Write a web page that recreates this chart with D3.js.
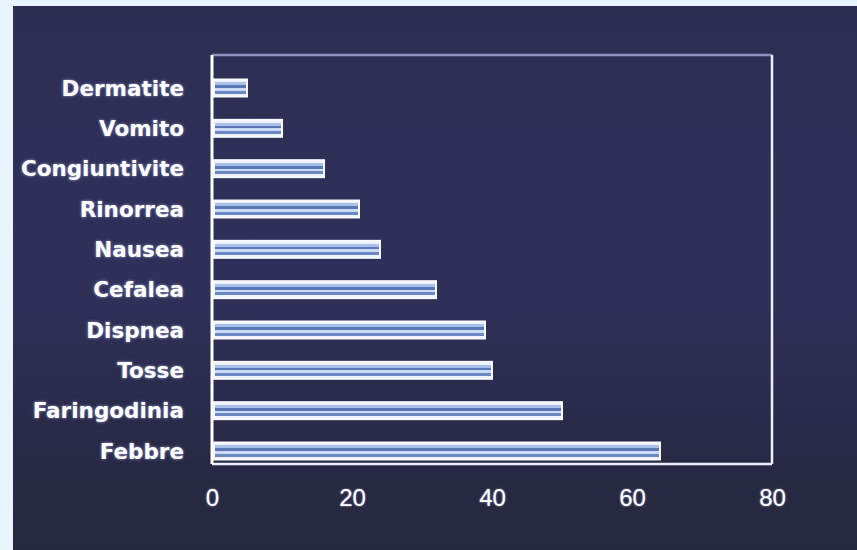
<!DOCTYPE html>
<html>
<head>
<meta charset="utf-8">
<script src="https://cdn.jsdelivr.net/npm/d3@7"></script>
<style>
  body { margin: 0; background: #e8f5fd; }
  svg text { font-family: "DejaVu Sans", sans-serif; }
  .lab { fill: #fff; font-weight: bold; font-size: 21.5px; text-shadow: 0 0 3px #9aa0d8; }
  .tick text { fill: #fff; font-family: "Liberation Sans", sans-serif; font-size: 24px; text-shadow: 0 0 2px #b0b4e0; }
</style>
</head>
<body>
<div id="chart"></div>
<script>
// symptoms, top to bottom
var categories = ["Dermatite", "Vomito", "Congiuntivite", "Rinorrea", "Nausea",
                  "Cefalea", "Dispnea", "Tosse", "Faringodinia", "Febbre"];
var values = [5, 10, 16, 21, 24, 32, 39, 40, 50, 64];
var tickValues = [0, 20, 40, 60, 80];

var W = 857, H = 550;

var svg = d3.select("#chart")
    .append("svg")
    .attr("width", W)
    .attr("height", H);

var defs = svg.append("defs");

// background gradient (bluish top, darker bottom)
var bg = defs.append("linearGradient")
    .attr("id", "bg")
    .attr("x1", 0).attr("y1", 0).attr("x2", 0).attr("y2", 1);
bg.append("stop").attr("offset", "0%").attr("stop-color", "#2d2e52");
bg.append("stop").attr("offset", "50%").attr("stop-color", "#30315a");
bg.append("stop").attr("offset", "80%").attr("stop-color", "#282a47");
bg.append("stop").attr("offset", "100%").attr("stop-color", "#25283c");

// striped bar fill
var stripes = defs.append("linearGradient")
    .attr("id", "stripes")
    .attr("x1", 0).attr("y1", 0).attr("x2", 0).attr("y2", 1);
[["0%", "#eef2fd"], ["16%", "#eef2fd"], ["16%", "#a8c0ea"], ["34%", "#a8c0ea"],
 ["34%", "#5a76b4"], ["50%", "#5a76b4"], ["50%", "#c9dbf6"], ["66%", "#c9dbf6"],
 ["66%", "#6c88c2"], ["84%", "#6c88c2"], ["84%", "#eef2fd"], ["100%", "#eef2fd"]]
  .forEach(function(s) {
    stripes.append("stop").attr("offset", s[0]).attr("stop-color", s[1]);
  });

svg.append("rect")
    .attr("x", 13).attr("y", 6)
    .attr("width", W - 13).attr("height", H - 6)
    .attr("fill", "url(#bg)");

var x = d3.scaleLinear()
    .domain([0, 80])
    .range([212, 772]);

var y = d3.scalePoint()
    .domain(categories)
    .range([88, 451]);

var barH = 17;

// frame
svg.append("line")
    .attr("x1", x(0)).attr("x2", x(80))
    .attr("y1", 55).attr("y2", 55)
    .attr("stroke", "#8b90bd").attr("stroke-width", 2.5);
svg.append("line")
    .attr("x1", x(80)).attr("x2", x(80))
    .attr("y1", 55).attr("y2", 464)
    .attr("stroke", "#eef0ff").attr("stroke-width", 2.5);
svg.append("line")
    .attr("x1", x(0)).attr("x2", x(80))
    .attr("y1", 464).attr("y2", 464)
    .attr("stroke", "#eef0ff").attr("stroke-width", 2.5);
svg.append("line")
    .attr("x1", x(0)).attr("x2", x(0))
    .attr("y1", 55).attr("y2", 464)
    .attr("stroke", "#ffffff").attr("stroke-width", 3);

// bars
svg.selectAll(".bar")
    .data(values)
    .enter()
    .append("rect")
    .attr("class", "bar")
    .attr("x", x(0) + 2)
    .attr("y", function(d, i) { return y(categories[i]) - barH / 2; })
    .attr("width", function(d) { return x(d) - x(0) - 2; })
    .attr("height", barH)
    .attr("fill", "url(#stripes)")
    .attr("stroke", "#f8f9ff")
    .attr("stroke-width", 2);

// category labels
svg.selectAll(".lab")
    .data(categories)
    .enter()
    .append("text")
    .attr("class", "lab")
    .attr("x", 184)
    .attr("y", function(d) { return y(d); })
    .attr("dy", "0.35em")
    .attr("text-anchor", "end")
    .text(function(d) { return d; });

// x axis labels
var xAxis = svg.append("g")
    .attr("transform", "translate(0,489)")
    .call(d3.axisBottom(x).tickValues(tickValues).tickSize(0).tickPadding(0));
xAxis.select(".domain").remove();
xAxis.selectAll(".tick text").attr("dy", "0.72em");
</script>
</body>
</html>
